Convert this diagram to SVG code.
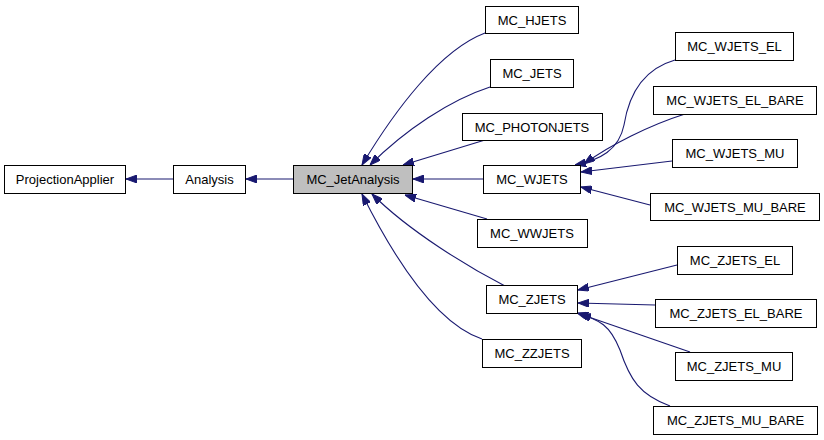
<svg xmlns="http://www.w3.org/2000/svg" width="824" height="440" viewBox="0 0 824 440">
<style>
rect{fill:#fff;stroke:#000;stroke-width:1}
rect.cur{fill:#bfbfbf}
text{font-family:"Liberation Sans",Arial,sans-serif;font-size:13px;text-anchor:middle;fill:#000}
.e path{fill:none;stroke:#191970;stroke-width:1.1;marker-end:url(#ah)}
</style>
<defs>
<marker id="ah" viewBox="0 0 11 8" refX="11" refY="4" markerWidth="11" markerHeight="8" markerUnits="userSpaceOnUse" orient="auto">
<path d="M0,0 L11,4 L0,8 z" fill="#191970" stroke="#191970"/>
</marker>
</defs>
<g class="e" id="edges">
<path d="M173,179 L126,179"/>
<path d="M293,179 L246,179"/>
<path d="M485,33 C440,50 395,110 362,165"/>
<path d="M490,87 C450,100 405,130 370,165"/>
<path d="M485,140 L403,165"/>
<path d="M483,179 L413,179"/>
<path d="M487,219 L405,195"/>
<path d="M505,286 C470,268 410,232 372,194"/>
<path d="M482,339 C440,325 400,270 362,194"/>
<path d="M675,60 C640,70 628,100 624,125 C619,150 600,160 575,165"/>
<path d="M685,114 C650,125 610,145 584,164"/>
<path d="M672,161 L581,172"/>
<path d="M650,205 L581,187"/>
<path d="M677,265 L578,290"/>
<path d="M655,305 L578,303"/>
<path d="M690,352 L580,314"/>
<path d="M670,406 C640,395 630,380 620,350 C610,325 600,320 577,313"/>
</g>
<g id="ProjectionApplier"><rect x="4.5" y="165.5" width="121" height="28"/><text x="65" y="184">ProjectionApplier</text></g>
<g id="Analysis"><rect x="173.5" y="165.5" width="72" height="28"/><text x="209.5" y="184">Analysis</text></g>
<g id="MC_JetAnalysis"><rect class="cur" x="293.5" y="165.5" width="119" height="28"/><text x="353" y="184">MC_JetAnalysis</text></g>
<g id="MC_HJETS"><rect x="485.5" y="6.5" width="93" height="27"/><text x="532" y="25">MC_HJETS</text></g>
<g id="MC_JETS"><rect x="490.5" y="59.5" width="83" height="28"/><text x="532" y="78">MC_JETS</text></g>
<g id="MC_PHOTONJETS"><rect x="462.5" y="113.5" width="140" height="27"/><text x="532" y="132">MC_PHOTONJETS</text></g>
<g id="MC_WJETS"><rect x="483.5" y="165.5" width="97" height="28"/><text x="532" y="184">MC_WJETS</text></g>
<g id="MC_WWJETS"><rect x="477.5" y="219.5" width="110" height="28"/><text x="532" y="238">MC_WWJETS</text></g>
<g id="MC_ZJETS"><rect x="486.5" y="285.5" width="91" height="28"/><text x="532" y="304">MC_ZJETS</text></g>
<g id="MC_ZZJETS"><rect x="482.5" y="339.5" width="99" height="28"/><text x="532" y="358">MC_ZZJETS</text></g>
<g id="MC_WJETS_EL"><rect x="675.5" y="32.5" width="118" height="28"/><text x="734.5" y="51">MC_WJETS_EL</text></g>
<g id="MC_WJETS_EL_BARE"><rect x="653.5" y="86.5" width="163" height="28"/><text x="735" y="105">MC_WJETS_EL_BARE</text></g>
<g id="MC_WJETS_MU"><rect x="672.5" y="139.5" width="125" height="28"/><text x="735" y="158">MC_WJETS_MU</text></g>
<g id="MC_WJETS_MU_BARE"><rect x="650.5" y="193.5" width="169" height="27"/><text x="735" y="212">MC_WJETS_MU_BARE</text></g>
<g id="MC_ZJETS_EL"><rect x="677.5" y="246.5" width="115" height="28"/><text x="735" y="265">MC_ZJETS_EL</text></g>
<g id="MC_ZJETS_EL_BARE"><rect x="655.5" y="299.5" width="161" height="28"/><text x="736" y="318">MC_ZJETS_EL_BARE</text></g>
<g id="MC_ZJETS_MU"><rect x="675.5" y="352.5" width="117" height="28"/><text x="734" y="371">MC_ZJETS_MU</text></g>
<g id="MC_ZJETS_MU_BARE"><rect x="653.5" y="406.5" width="164" height="28"/><text x="735.5" y="425">MC_ZJETS_MU_BARE</text></g>
</svg>
